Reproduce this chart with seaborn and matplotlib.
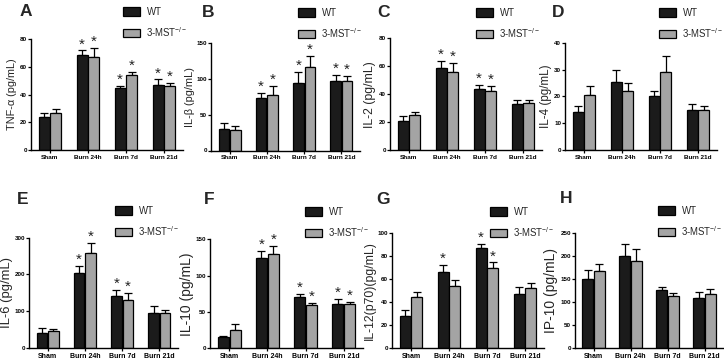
import numpy as np
import pandas as pd
import matplotlib
matplotlib.use("Agg")
import matplotlib.pyplot as plt
import seaborn as sns
from matplotlib.patches import Patch

# ---------------- data ----------------
groups = ["Sham", "Burn 24h", "Burn 7d", "Burn 21d"]
genotypes = ["WT", "3-MST"]
legend_labels = ["WT", "3-MST$^{-/-}$"]

tnf_wt = [24, 69, 45, 47]
tnf_wt_err = [2.5, 3, 1, 4]
tnf_ko = [27, 67.5, 54, 46.5]
tnf_ko_err = [2.5, 6, 2.5, 2]

ilb_wt = [30, 74, 95, 97]
ilb_wt_err = [8, 6, 15, 9]
ilb_ko = [28, 77, 117, 97]
ilb_ko_err = [6, 13, 15, 7]

il2_wt = [21, 59, 43.5, 33]
il2_wt_err = [3, 4.5, 3, 3]
il2_ko = [25, 56, 42, 33.5]
il2_ko_err = [2.5, 6.5, 4, 2]

il4_wt = [14, 25.5, 20, 15]
il4_wt_err = [2.5, 4.5, 2, 2]
il4_ko = [20.5, 22, 29, 15]
il4_ko_err = [3.5, 3, 6, 1.5]

il6_wt = [40, 203, 140, 95]
il6_wt_err = [13, 20, 18, 20]
il6_ko = [45, 258, 130, 95]
il6_ko_err = [7, 27, 20, 9]

il10_wt = [15, 124, 70, 61]
il10_wt_err = [2, 10, 5, 7]
il10_ko = [25, 130, 59, 61]
il10_ko_err = [8, 11, 4, 2.5]

il12_wt = [28, 66, 87, 47]
il12_wt_err = [5, 6, 4, 6]
il12_ko = [44.5, 54, 69.5, 52.5]
il12_ko_err = [4, 5, 5, 4]

ip10_wt = [151, 201, 126, 110]
ip10_wt_err = [19, 26, 7, 12]
ip10_ko = [169, 189, 113, 117]
ip10_ko_err = [14, 26, 8, 11]

# significance stars (1 = star above bar)
stars_tnf = ([0, 1, 1, 1], [0, 1, 1, 1])
stars_ilb = ([0, 1, 1, 1], [0, 1, 1, 1])
stars_il2 = ([0, 1, 1, 0], [0, 1, 1, 0])
stars_il4 = ([0, 0, 0, 0], [0, 0, 0, 0])
stars_il6 = ([0, 1, 1, 0], [0, 1, 1, 0])
stars_il10 = ([0, 1, 1, 1], [0, 1, 1, 1])
stars_il12 = ([0, 1, 1, 0], [0, 0, 1, 0])
stars_ip10 = ([0, 0, 0, 0], [0, 0, 0, 0])

panel_letters = ["A", "B", "C", "D", "E", "F", "G", "H"]
ylabels = ["TNF-α (pg/mL)", "IL-β (pg/mL)", "IL-2 (pg/mL)", "IL-4 (pg/mL)",
           "IL-6 (pg/mL)", "IL-10 (pg/mL)", "IL-12(p70)(pg/mL)", "IP-10 (pg/mL)"]
ymaxes = [80, 150, 80, 40, 300, 150, 100, 250]
ysteps = [20, 50, 20, 10, 100, 50, 20, 50]

series = [
    (tnf_wt, tnf_wt_err, tnf_ko, tnf_ko_err, stars_tnf),
    (ilb_wt, ilb_wt_err, ilb_ko, ilb_ko_err, stars_ilb),
    (il2_wt, il2_wt_err, il2_ko, il2_ko_err, stars_il2),
    (il4_wt, il4_wt_err, il4_ko, il4_ko_err, stars_il4),
    (il6_wt, il6_wt_err, il6_ko, il6_ko_err, stars_il6),
    (il10_wt, il10_wt_err, il10_ko, il10_ko_err, stars_il10),
    (il12_wt, il12_wt_err, il12_ko, il12_ko_err, stars_il12),
    (ip10_wt, ip10_wt_err, ip10_ko, ip10_ko_err, stars_ip10),
]

# ---------------- layout (pixels) ----------------
W, H = 724, 359
axes_px = [  # left, top, right, bottom
    (31, 39.3, 183, 150),
    (211, 43.3, 360, 150.5),
    (390, 38.3, 542, 150),
    (565, 42.7, 717, 150),
    (29, 237.7, 178, 347.7),
    (210, 239.3, 363, 348.3),
    (392, 233.3, 544, 347.7),
    (575, 233.3, 723, 348.3),
]
letter_px = [(20, 4), (202, 5), (377, 5), (552, 5),
             (17, 192), (204, 192), (376, 192), (560, 191)]
legend_px = [(123, 8), (298, 9), (476, 9), (659, 9),
             (115, 207), (305, 208), (490, 208), (658, 207)]
ylabel_right_px = [17, 195, 376, 552, 13, 194, 376, 558]
ylabel_sizes = [7.8, 7.9, 8.8, 8.4, 9.4, 10.0, 8.8, 10.0]
xtick_sizes = [4.6, 4.6, 4.6, 4.6, 5.0, 5.0, 5.0, 5.0]

sns.set_style("white")
plt.rcParams["font.family"] = ["Liberation Sans", "DejaVu Sans"]
plt.rcParams["mathtext.fontset"] = "custom"
plt.rcParams["mathtext.rm"] = "Liberation Sans"
plt.rcParams["mathtext.it"] = "Liberation Sans"

WT_COLOR = "#1b1b1b"
KO_COLOR = "#a4a4a4"
palette = {"WT": WT_COLOR, "3-MST": KO_COLOR}

fig = plt.figure(figsize=(W / 100, H / 100), dpi=100)
fig.patch.set_facecolor("white")

for i in range(8):
    wt, wt_err, ko, ko_err, stars = series[i]
    l, t, r, b = axes_px[i]
    ax = fig.add_axes([l / W, 1 - b / H, (r - l) / W, (b - t) / H])
    df = pd.DataFrame({
        "group": groups * 2,
        "genotype": ["WT"] * 4 + ["3-MST"] * 4,
        "value": list(wt) + list(ko),
    })
    sns.barplot(data=df, x="group", y="value", hue="genotype", order=groups,
                hue_order=genotypes, palette=palette, edgecolor="black",
                linewidth=0.9, width=0.62, gap=0.08, errorbar=None,
                legend=False, ax=ax, zorder=2)
    errs = [wt_err, ko_err]
    bar_conts = list(ax.containers)
    for k, cont in enumerate(bar_conts):
        xs = [p.get_x() + p.get_width() / 2 for p in cont.patches]
        hs = [p.get_height() for p in cont.patches]
        e = errs[k]
        ax.errorbar(xs, hs, yerr=[np.zeros(len(e)), e], fmt="none",
                    ecolor="black", elinewidth=0.9, capsize=2.6,
                    capthick=0.9, zorder=1)
        for j, flag in enumerate(stars[k]):
            if flag:
                ax.annotate("*", (xs[j], hs[j] + e[j]), xytext=(0, 1.5),
                            textcoords="offset points", ha="center",
                            va="baseline", fontsize=11, color="#222222")
    ymax = ymaxes[i]
    ax.set_ylim(0, ymax)
    ax.set_xlim(-0.5, 3.5)
    ticks = np.arange(0, ymax + 0.1, ysteps[i])
    ax.set_yticks(ticks)
    ax.set_yticklabels([str(int(v)) for v in ticks], fontsize=4.5,
                       fontweight="bold")
    ax.set_xticks(range(4))
    ax.set_xticklabels(groups, fontsize=xtick_sizes[i], fontweight="bold")
    ax.set_xlabel("")
    ax.set_ylabel(ylabels[i], fontsize=ylabel_sizes[i])
    xr = (ylabel_right_px[i] - l) / (r - l)
    ax.yaxis.set_label_coords(xr, 0.5)
    for s in ["top", "right"]:
        ax.spines[s].set_visible(False)
    for s in ["left", "bottom"]:
        ax.spines[s].set_linewidth(1.0)
        ax.spines[s].set_color("black")
    ax.tick_params(axis="y", length=2.2, width=0.9, pad=0.6, direction="out",
                   left=True, colors="black")
    ax.tick_params(axis="x", length=2, width=0.9, pad=1.5, direction="out",
                   bottom=True, colors="black")
    ax.set_facecolor("none")

    # panel letter
    lx, ly = letter_px[i]
    fig.text(lx / W, 1 - ly / H, panel_letters[i], fontsize=12.5,
             fontweight="bold", ha="left", va="top")

    # legend
    px, py = legend_px[i]
    handles = [Patch(facecolor=WT_COLOR, edgecolor="black", linewidth=0.9),
               Patch(facecolor=KO_COLOR, edgecolor="black", linewidth=0.9)]
    ax.legend(handles, legend_labels, loc="upper left",
              bbox_to_anchor=(px / W, 1 - (py - 1.2) / H),
              bbox_transform=fig.transFigure, frameon=False, fontsize=6.9,
              handlelength=1.8, handleheight=0.92, handletextpad=0.65,
              labelspacing=0.85, borderpad=0, borderaxespad=0)

fig.savefig("out.png", dpi=100, facecolor="white")
